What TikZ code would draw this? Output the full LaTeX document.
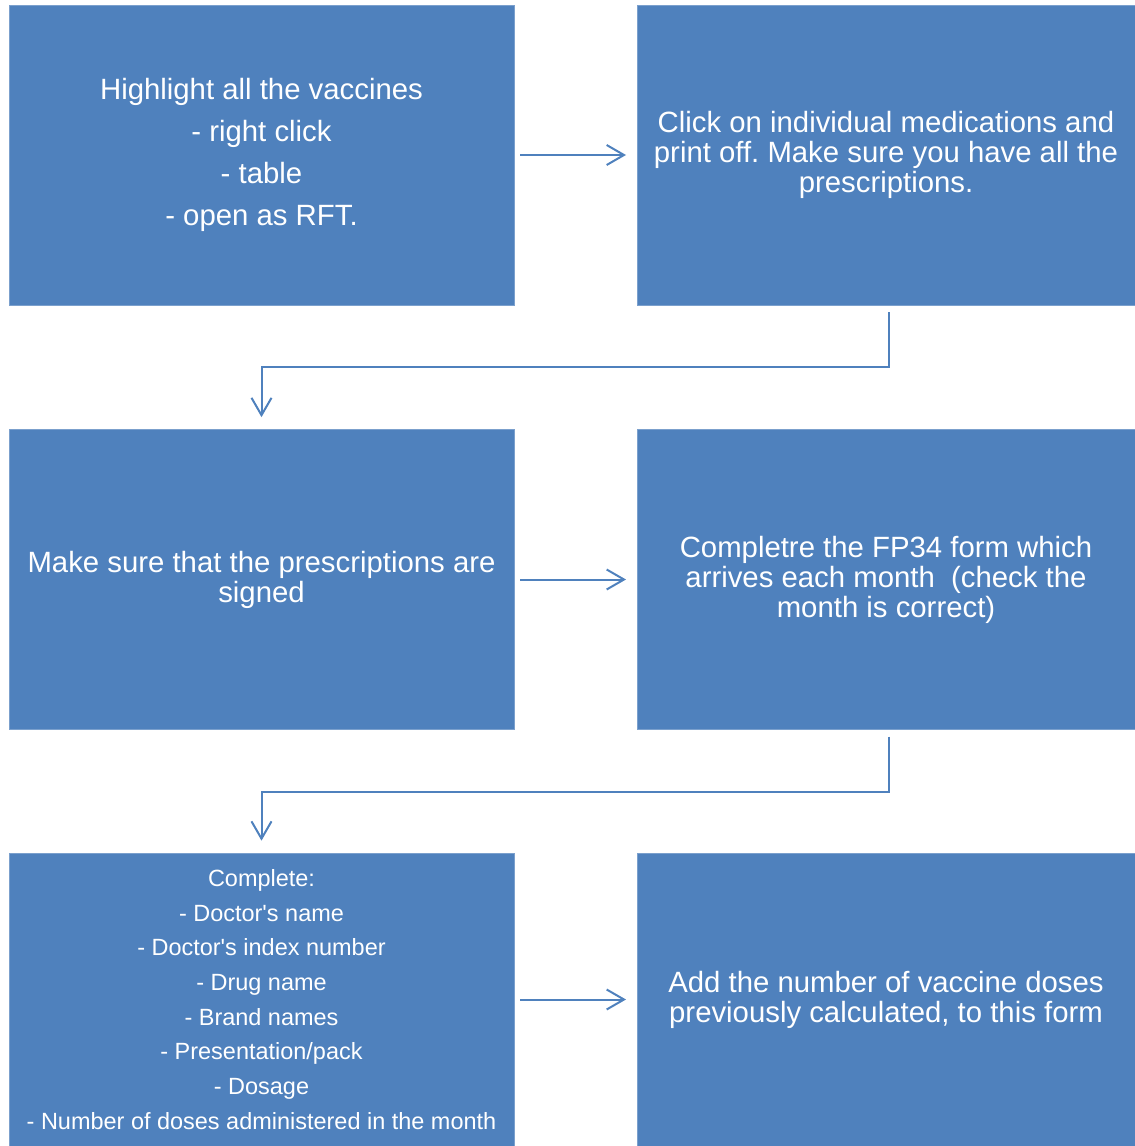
\documentclass[tikz,border=0pt]{standalone}
\usepackage{fontspec}
\setmainfont{Liberation Sans}
\frenchspacing
\usepackage{tikz}
\usetikzlibrary{positioning}
\usetikzlibrary{arrows.meta}
\definecolor{boxblue}{HTML}{4F81BD}

\begin{document}
\begin{tikzpicture}[x=0.75pt, y=-0.75pt,
    box/.style = {fill=boxblue, draw=boxblue!75!white, line width=0.5pt, text=white, align=center,
                  minimum width=378.75pt, minimum height=225pt, inner sep=0pt,
                  font=\fontsize{22}{22.5}\selectfont},
    wide/.style = {minimum width=373.5pt},
    arr/.style = {draw=boxblue, line width=1.5pt, -{Straight Barb[length=13pt,width=15pt,line width=1.5pt]}}]
        \useasboundingbox (0,0) rectangle (1135,1146);

        \node[box] (hl) at (261.5,155) {Highlight all the vaccines\\[9pt] - right click\\[9pt] - table\\[9pt] - open as RFT.};
        \node[box, wide] (click) at (886,155) {Click on individual medications and\\ print off. Make sure you have all the\\ prescriptions.};
        \node[box] (sign) at (261.5,579.5) {Make sure that the prescriptions are\\ signed};
        \node[box, wide] (form) at (886,579.5) {Completre the FP34 form which\\ arrives each month\ \ (check the\\ month is correct)};
        \node[box, minimum height=219.75pt, font=\fontsize{17.6}{26}\selectfont] (list) at (261.5,999.5)
            {Complete:\\ - Doctor\textquotesingle s name\\ - Doctor\textquotesingle s index number\\ - Drug name\\ - Brand names\\ - Presentation/pack\\ - Dosage\\ - Number of doses administered in the month};
        \node[box, wide, minimum height=219.75pt] (add) at (886,999.5) {Add the number of vaccine doses\\ previously calculated, to this form};

        \draw[arr, shorten <=4.5pt, shorten >=8pt] (hl) -- (click);
        \draw[arr, shorten <=4.5pt, shorten >=8pt] (sign) -- (form);
        \draw[arr, shorten <=4.5pt, shorten >=8pt] (list.east |- add) -- (add);
        \draw[arr, shorten <=5pt, shorten >=9pt] ([xshift=2.25pt]click.south) -- ++(0,62) -| (sign.north); % down to next row
        \draw[arr, shorten <=5pt, shorten >=9pt] ([xshift=2.25pt]form.south) -- ++(0,62) -| (list.north);
      \end{tikzpicture}
\end{document}
